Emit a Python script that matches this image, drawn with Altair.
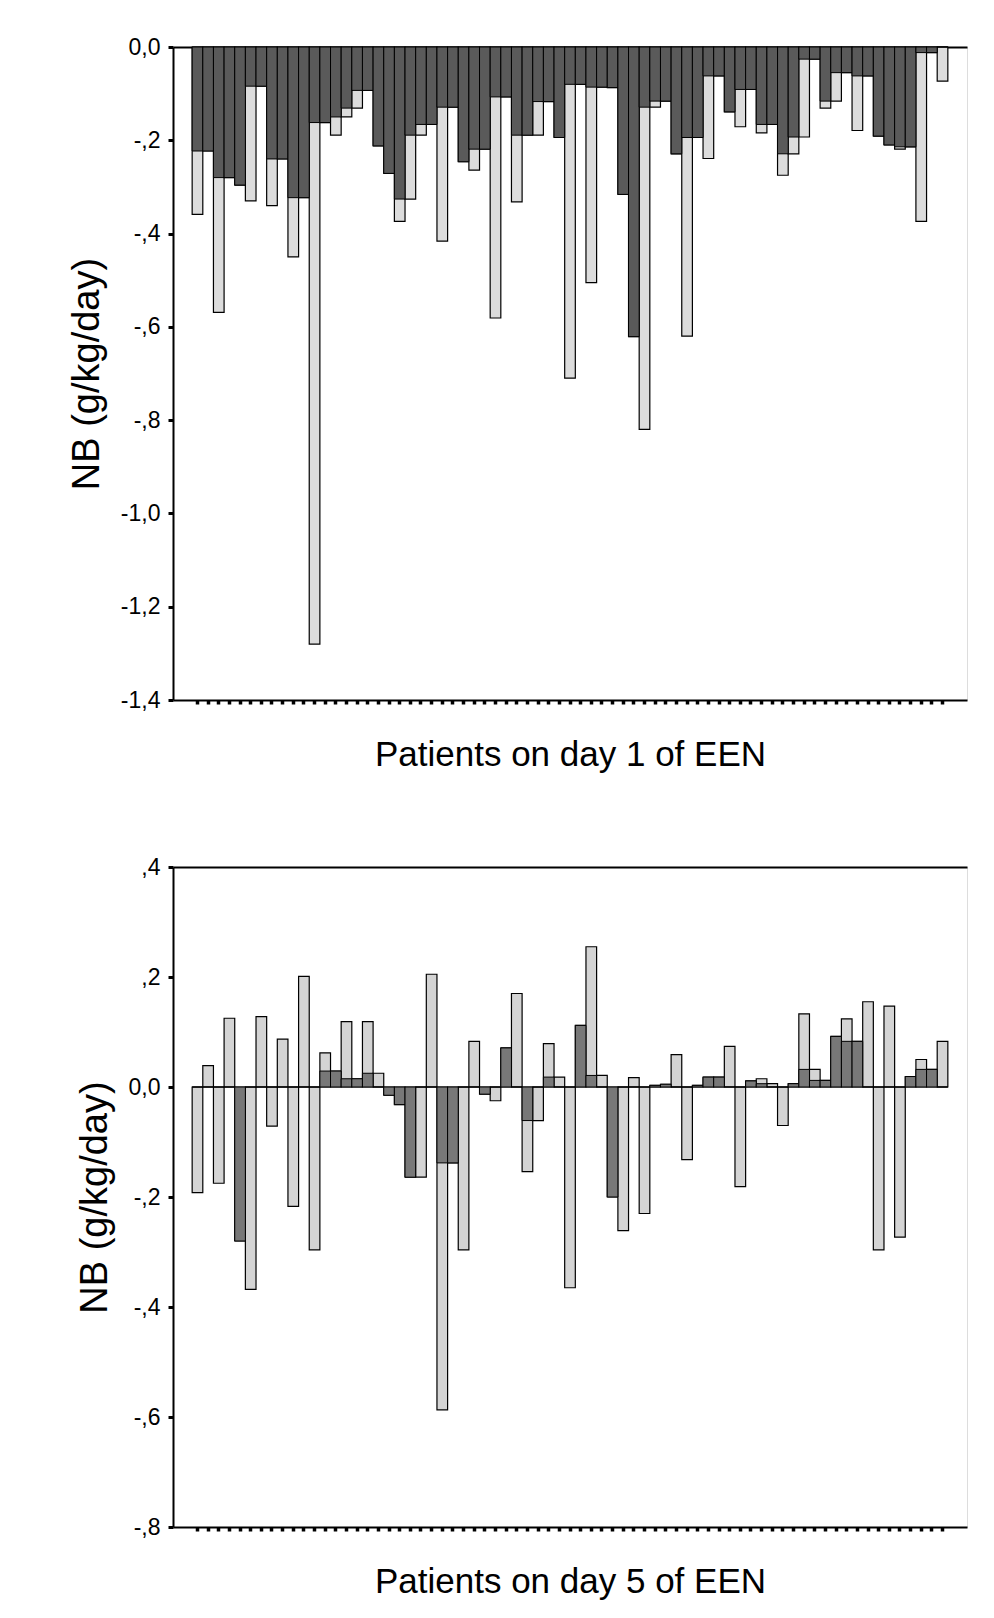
import altair as alt
import pandas as pd

patients = list(range(1, 72))

day1_nb = [
    -0.359, -0.223, -0.569, -0.280, -0.296, -0.330, -0.084, -0.340, -0.240, -0.450,
    -0.323, -1.280, -0.162, -0.189, -0.150, -0.131, -0.093, -0.212, -0.271, -0.374,
    -0.326, -0.189, -0.166, -0.416, -0.129, -0.246, -0.264, -0.219, -0.581, -0.107,
    -0.332, -0.189, -0.189, -0.117, -0.194, -0.710, -0.080, -0.505, -0.086, -0.087,
    -0.316, -0.621, -0.820, -0.129, -0.116, -0.229, -0.620, -0.194, -0.239, -0.062,
    -0.139, -0.171, -0.091, -0.184, -0.166, -0.275, -0.229, -0.193, -0.026, -0.131,
    -0.116, -0.055, -0.179, -0.062, -0.191, -0.210, -0.219, -0.214, -0.374, -0.012,
    -0.073,
]

day5_nb = [
    -0.192, 0.039, -0.175, 0.125, -0.280, -0.368, 0.128, -0.071, 0.087, -0.217,
    0.201, -0.296, 0.062, 0.029, 0.119, 0.015, 0.119, 0.025, -0.015, -0.032,
    -0.164, -0.164, 0.205, -0.587, -0.138, -0.296, 0.083, -0.013, -0.025, 0.071,
    0.170, -0.154, -0.061, 0.079, 0.018, -0.365, 0.112, 0.255, 0.021, -0.200,
    -0.261, 0.017, -0.230, 0.003, 0.005, 0.059, -0.132, 0.003, 0.018, 0.018,
    0.074, -0.181, 0.011, 0.015, 0.006, -0.070, 0.006, 0.133, 0.032, 0.012,
    0.092, 0.124, 0.083, 0.155, -0.296, 0.147, -0.273, 0.019, 0.050, 0.032,
    0.083,
]

day1_ticks = [0.0, -0.2, -0.4, -0.6, -0.8, -1.0, -1.2, -1.4]
day5_ticks = [0.4, 0.2, 0.0, -0.2, -0.4, -0.6, -0.8]

titles = ["Patients on day 1 of EEN", "Patients on day 5 of EEN"]
y_title = "NB (g/kg/day)"

# band domain with one empty slot on each side (space before first / after last bar)
x_domain = [0] + patients + [72]

LABEL_EXPR = (
    "datum.value == 0 ? '0,0' : (datum.value < 0 ? '-' : '') + "
    "(abs(datum.value) < 1 ? ',' + substring(format(abs(datum.value), '.1f'), 2) "
    ": replace(format(abs(datum.value), '.1f'), '.', ','))"
)

DARK_EXPR = (
    "(datum.next_nb == null || datum.nb * datum.next_nb <= 0) ? 0 : "
    "(datum.nb < 0 ? max(datum.nb, datum.next_nb) : min(datum.nb, datum.next_nb))"
)


def panel(values, ticks, title, dark_col, light_col, w, h):
    df = pd.DataFrame({"patient": patients, "nb": values})
    xscale = alt.Scale(domain=x_domain, paddingInner=0, paddingOuter=0.8)
    yscale = alt.Scale(domain=[min(ticks), max(ticks)], nice=False)
    yaxis = alt.Axis(
        values=ticks, labelExpr=LABEL_EXPR, grid=False, title=y_title,
        tickSize=5, tickWidth=3, tickColor="black", domainColor="black",
        domainWidth=2, labelPadding=8, labelFontSize=23, titleFontSize=38,
        titlePadding=14, titleFontWeight="normal",
    )
    base = alt.Chart(df).transform_window(
        window=[alt.WindowFieldDef(op="lead", field="nb", **{"as": "next_nb"})],
        sort=[alt.SortField("patient", order="ascending")],
    ).transform_calculate(dark=DARK_EXPR)

    light = base.mark_bar(color=light_col, stroke="black", strokeWidth=1.2).encode(
        x=alt.X(
            "patient:O",
            scale=xscale,
            axis=alt.Axis(
                values=patients, labels=False, ticks=True, tickSize=4, tickWidth=3.5,
                tickColor="black", domainColor="black", domainWidth=2, title=title,
                titleFontSize=35, titlePadding=32, titleFontWeight="normal",
            ),
        ),
        y=alt.Y("nb:Q", scale=yscale, axis=yaxis),
    )
    dark = base.mark_bar(color=dark_col, stroke="black", strokeWidth=1.0).encode(
        x=alt.X(
            "patient:O",
            scale=xscale,
            axis=alt.Axis(
                orient="top", labels=False, ticks=False, title=None,
                domainColor="black", domainWidth=2,
            ),
        ),
        y=alt.Y("dark:Q", scale=yscale, axis=yaxis),
    )
    return alt.layer(light, dark).resolve_axis(x="independent").properties(width=w, height=h)


top = panel(day1_nb, day1_ticks, titles[0], "#5a5a5a", "#dcdcdc", 794, 653)
bottom = panel(day5_nb, day5_ticks, titles[1], "#787878", "#d4d4d4", 794, 660)

chart = alt.vconcat(top, bottom, spacing=81).properties(
    padding={"left": 59, "top": 27, "right": 5, "bottom": 5}
).configure_view(
    stroke="#777777", strokeWidth=1
).configure_axis(
    labelFont="Liberation Sans", titleFont="Liberation Sans",
    labelColor="black", titleColor="black",
).configure(background="white")

chart.save("out.html", embed_options={"renderer": "svg", "actions": False})
